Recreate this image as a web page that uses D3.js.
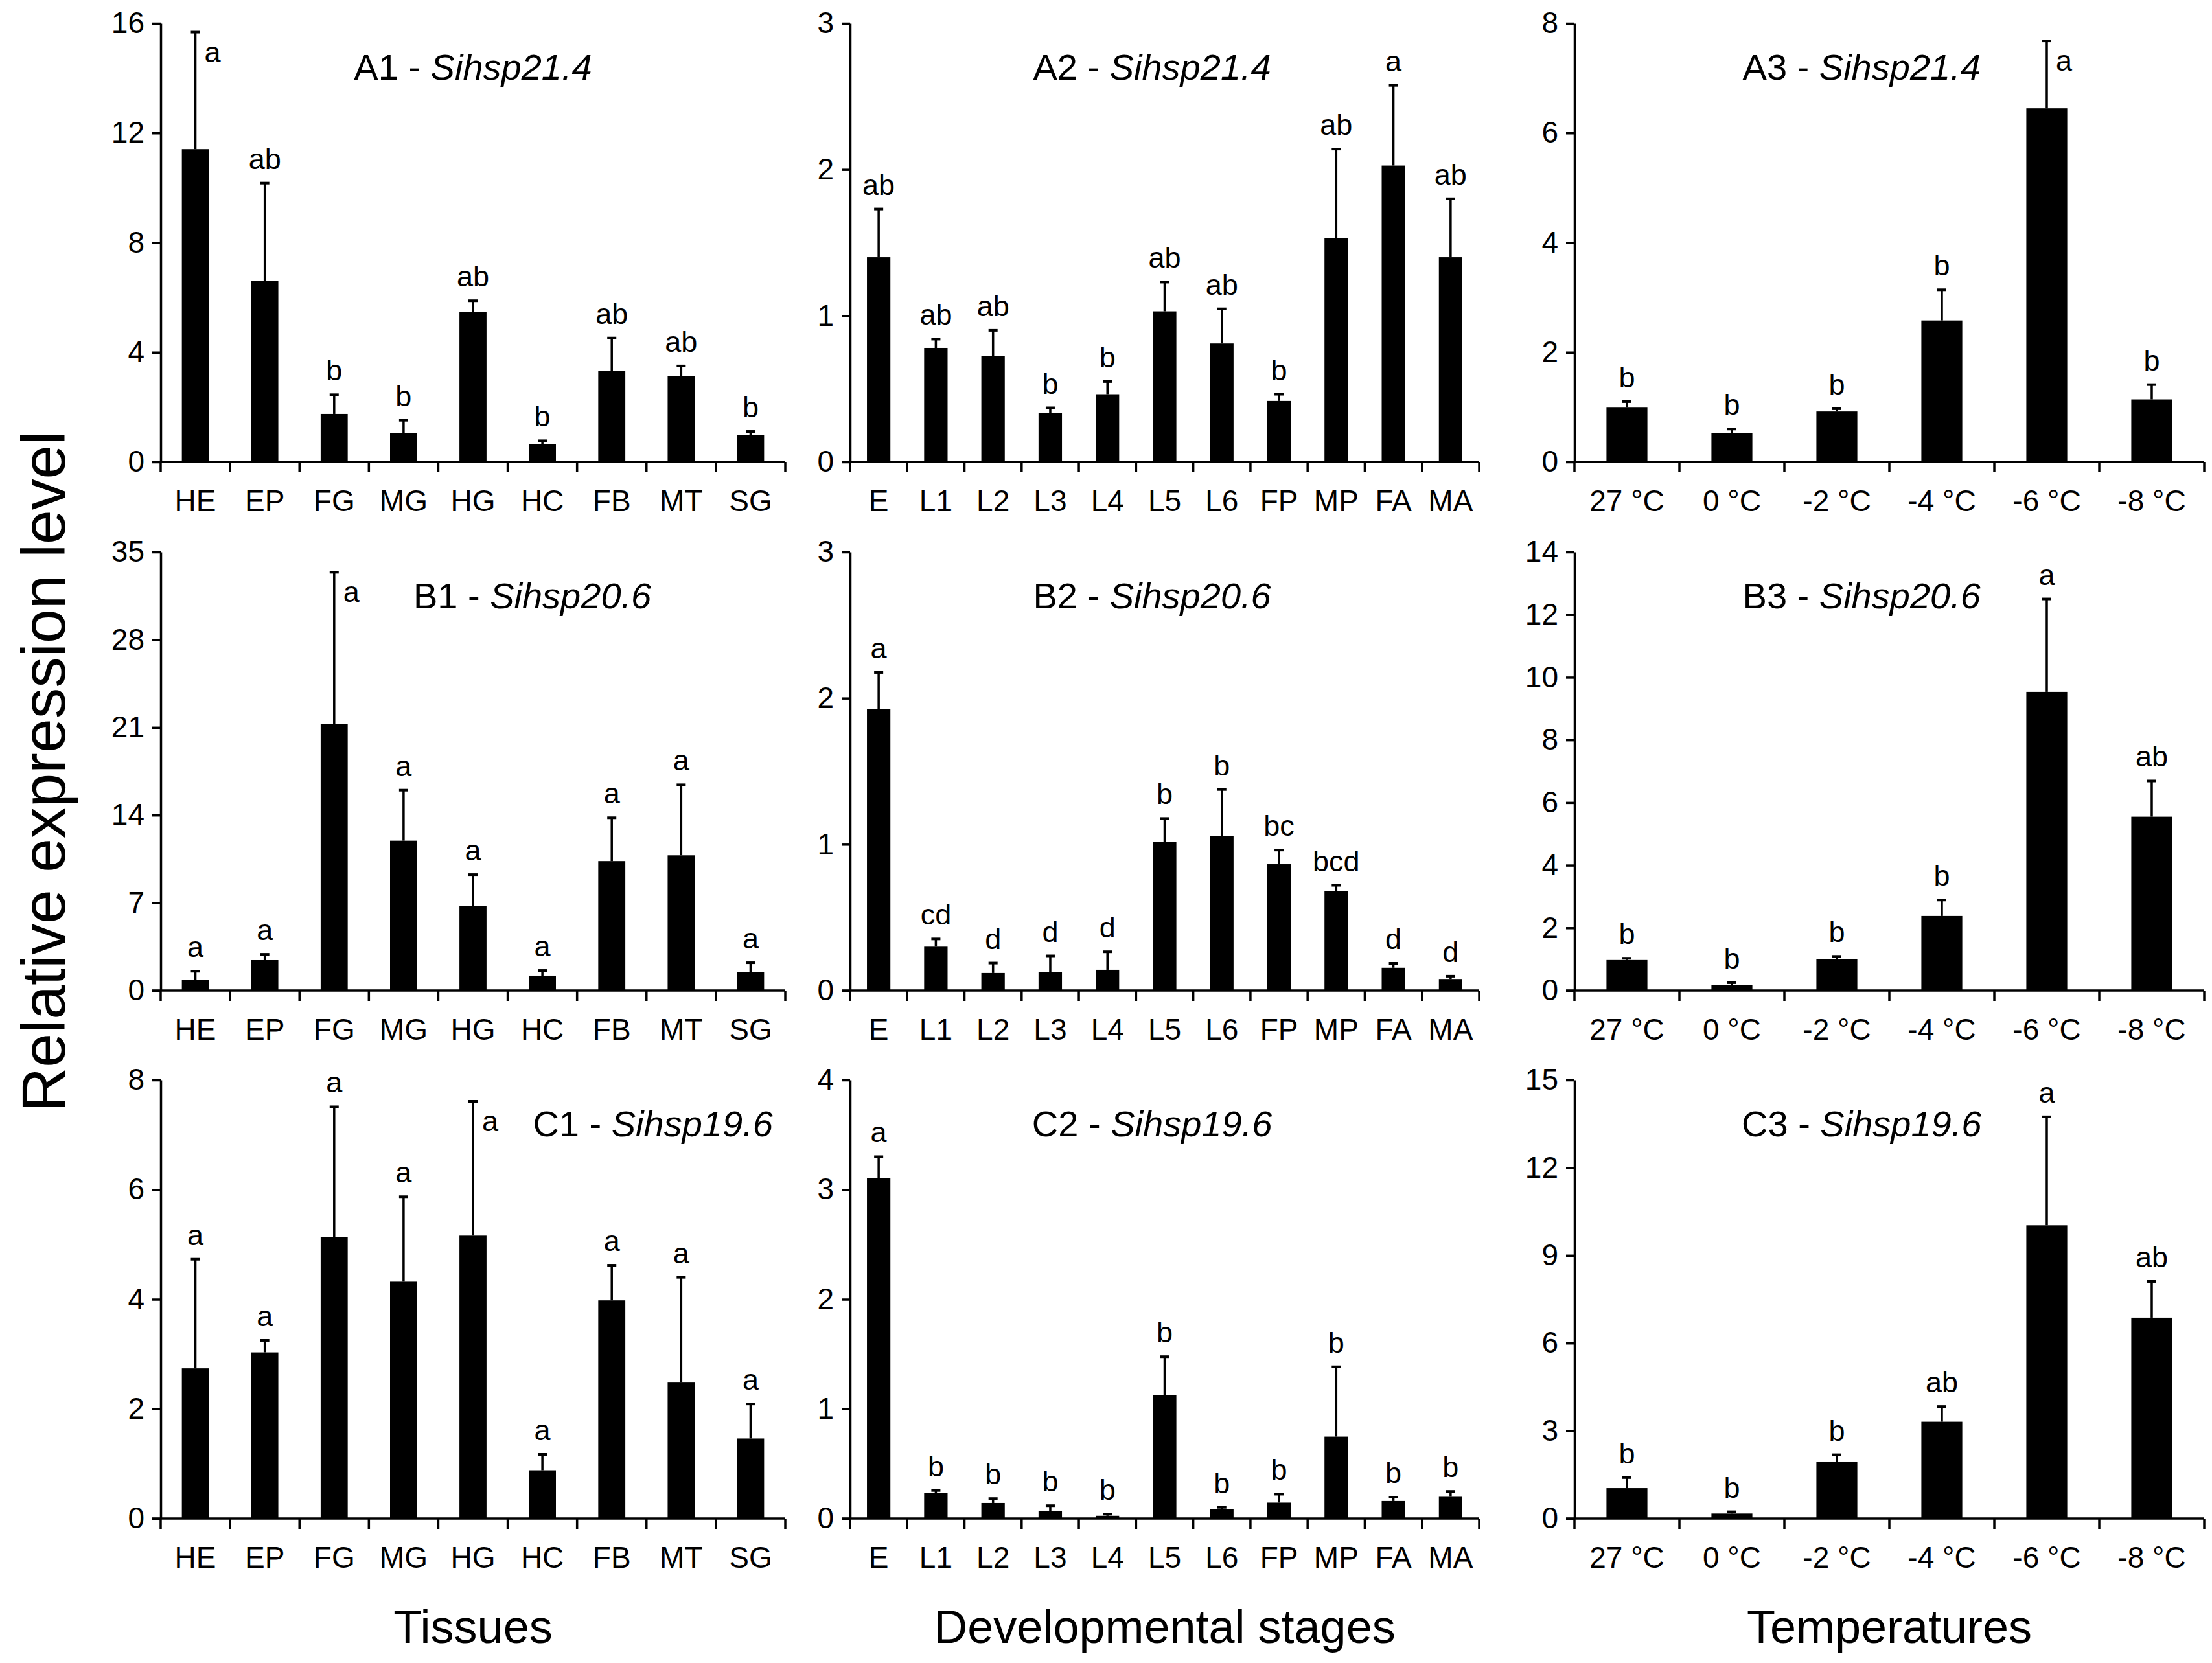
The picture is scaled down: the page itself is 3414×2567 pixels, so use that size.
<!DOCTYPE html>
<html>
<head>
<meta charset="utf-8">
<script src="https://cdn.jsdelivr.net/npm/d3@7"></script>
<style>
  body { margin: 0; background: #fff; }
  text { font-family: 'Liberation Sans', Arial, sans-serif; fill: #000; }
</style>
</head>
<body>
<div id="chart"></div>
<script>
const width = 3414
const height = 2567

/* categories */
const tissues = ['HE', 'EP', 'FG', 'MG', 'HG', 'HC', 'FB', 'MT', 'SG']
const stages = ['E', 'L1', 'L2', 'L3', 'L4', 'L5', 'L6', 'FP', 'MP', 'FA', 'MA']
const temps = ['27 °C', '0 °C', '-2 °C', '-4 °C', '-6 °C', '-8 °C']

/* Sihsp21.4 */
const a1Mean = [11.41, 6.60, 1.75, 1.06, 5.46, 0.64, 3.33, 3.13, 0.97]
const a1Se = [4.27, 3.57, 0.70, 0.46, 0.42, 0.13, 1.19, 0.37, 0.14]
const a1Letters = ['a', 'ab', 'b', 'b', 'ab', 'b', 'ab', 'ab', 'b']
const a2Mean = [1.40, 0.78, 0.725, 0.334, 0.463, 1.03, 0.81, 0.417, 1.533, 2.027, 1.40]
const a2Se = [0.33, 0.06, 0.175, 0.036, 0.087, 0.20, 0.237, 0.046, 0.607, 0.549, 0.40]
const a2Letters = ['ab', 'ab', 'ab', 'b', 'b', 'ab', 'ab', 'b', 'ab', 'a', 'ab']
const a3Mean = [0.99, 0.526, 0.92, 2.58, 6.45, 1.14]
const a3Se = [0.11, 0.074, 0.05, 0.56, 1.23, 0.27]
const a3Letters = ['b', 'b', 'b', 'b', 'a', 'b']

/* Sihsp20.6 */
const b1Mean = [0.87, 2.43, 21.29, 11.96, 6.76, 1.19, 10.33, 10.79, 1.49]
const b1Se = [0.67, 0.46, 12.09, 4.03, 2.49, 0.41, 3.46, 5.63, 0.73]
const b1Letters = ['a', 'a', 'a', 'a', 'a', 'a', 'a', 'a', 'a']
const b2Mean = [1.927, 0.30, 0.12, 0.128, 0.142, 1.017, 1.059, 0.864, 0.678, 0.156, 0.079]
const b2Se = [0.249, 0.053, 0.068, 0.109, 0.123, 0.16, 0.316, 0.097, 0.042, 0.03, 0.019]
const b2Letters = ['a', 'cd', 'd', 'd', 'd', 'b', 'b', 'bc', 'bcd', 'd', 'd']
const b3Mean = [0.975, 0.184, 1.008, 2.38, 9.535, 5.55]
const b3Se = [0.055, 0.066, 0.082, 0.51, 2.965, 1.14]
const b3Letters = ['b', 'b', 'b', 'b', 'a', 'ab']

/* Sihsp19.6 */
const c1Mean = [2.74, 3.03, 5.13, 4.32, 5.16, 0.88, 3.98, 2.48, 1.46]
const c1Se = [1.99, 0.22, 2.38, 1.55, 2.45, 0.29, 0.64, 1.92, 0.63]
const c1Letters = ['a', 'a', 'a', 'a', 'a', 'a', 'a', 'a', 'a']
const c2Mean = [3.107, 0.235, 0.142, 0.071, 0.025, 1.127, 0.086, 0.145, 0.747, 0.16, 0.204]
const c2Se = [0.193, 0.021, 0.04, 0.046, 0.015, 0.349, 0.016, 0.077, 0.637, 0.035, 0.043]
const c2Letters = ['a', 'b', 'b', 'b', 'b', 'b', 'b', 'b', 'b', 'b', 'b']
const c3Mean = [1.04, 0.17, 1.95, 3.31, 10.03, 6.87]
const c3Se = [0.36, 0.06, 0.23, 0.52, 3.71, 1.24]
const c3Letters = ['b', 'b', 'b', 'ab', 'a', 'ab']

/* y axis ranges and tick steps */
const yMax = [16, 3, 8, 35, 3, 14, 8, 4, 15]
const yStep = [4, 1, 2, 7, 1, 2, 2, 1, 3]

const genes = ['Sihsp21.4', 'Sihsp20.6', 'Sihsp19.6']
const rowIds = ['A', 'B', 'C']
const columnTitles = ['Tissues', 'Developmental stages', 'Temperatures']

/* layout (pixels) */
const cols = [
    {x: 248, w: 964, bar: 0.39, cats: tissues},
    {x: 1312, w: 971, bar: 0.41, cats: stages},
    {x: 2430, w: 972, bar: 0.39, cats: temps},
]
const rows = [
    {top: 36, zero: 713},
    {top: 852, zero: 1529},
    {top: 1667, zero: 2344},
]
/* where the panel title sits, as a share of plot width */
const titlePos = [[0.5, 0.48, 0.456], [0.595, 0.48, 0.456], [0.788, 0.48, 0.456]]
/* letters drawn beside the error bar instead of above it */
const sideLetters = {'0-0': 0, '0-2': 4, '1-0': 2, '2-0': 4}

const panels = [
    [a1Mean, a1Se, a1Letters], [a2Mean, a2Se, a2Letters], [a3Mean, a3Se, a3Letters],
    [b1Mean, b1Se, b1Letters], [b2Mean, b2Se, b2Letters], [b3Mean, b3Se, b3Letters],
    [c1Mean, c1Se, c1Letters], [c2Mean, c2Se, c2Letters], [c3Mean, c3Se, c3Letters],
]

const svg = d3.select('#chart').append('svg')
    .attr('width', width)
    .attr('height', height)

panels.forEach(([mean, se, letters], i) => {
    const r = Math.floor(i / 3)
    const c = i % 3
    const col = cols[c]
    const row = rows[r]

    const x = d3.scaleBand().domain(col.cats).range([col.x, col.x + col.w])
    const y = d3.scaleLinear().domain([0, yMax[i]]).range([row.zero, row.top])
    const bw = x.bandwidth() * col.bar

    const data = col.cats.map((k, j) => ({k, v: mean[j], e: se[j], l: letters[j], j}))
    const g = svg.append('g').attr('class', 'panel')

    /* bars */
    g.selectAll('rect.bar')
        .data(data)
        .join('rect')
        .attr('class', 'bar')
        .attr('x', d => x(d.k) + (x.bandwidth() - bw) / 2)
        .attr('width', bw)
        .attr('y', d => y(d.v))
        .attr('height', d => y(0) - y(d.v))
        .attr('fill', '#000')

    /* error bars, upper half only */
    const cx = d => x(d.k) + x.bandwidth() / 2
    g.selectAll('line.err')
        .data(data)
        .join('line')
        .attr('class', 'err')
        .attr('x1', cx).attr('x2', cx)
        .attr('y1', d => y(d.v)).attr('y2', d => y(d.v + d.e))
        .attr('stroke', '#000').attr('stroke-width', 3.5)
    g.selectAll('line.cap')
        .data(data)
        .join('line')
        .attr('class', 'cap')
        .attr('x1', d => cx(d) - 7).attr('x2', d => cx(d) + 7)
        .attr('y1', d => y(d.v + d.e)).attr('y2', d => y(d.v + d.e))
        .attr('stroke', '#000').attr('stroke-width', 4)

    /* significance letters */
    const side = sideLetters[r + '-' + c]
    g.selectAll('text.sig')
        .data(data)
        .join('text')
        .attr('class', 'sig')
        .attr('x', d => d.j === side ? cx(d) + 14 : cx(d))
        .attr('y', d => d.j === side ? y(d.v + d.e) + 46 : y(d.v + d.e) - 22)
        .attr('text-anchor', d => d.j === side ? 'start' : 'middle')
        .attr('font-size', 45)
        .text(d => d.l)

    /* y axis */
    const ticks = d3.range(0, yMax[i] + yStep[i] / 2, yStep[i])
    const yAxis = g.append('g')
        .attr('transform', `translate(${col.x},0)`)
        .call(d3.axisLeft(y).tickValues(ticks).tickFormat(d3.format('d'))
            .tickSize(13).tickSizeOuter(0).tickPadding(12))
    yAxis.select('.domain').attr('stroke-width', 3.5)
    yAxis.selectAll('.tick line').attr('stroke-width', 3.5)
    yAxis.selectAll('.tick text')
        .attr('font-size', 46)
        .attr('font-family', "'Liberation Sans', Arial, sans-serif")
        .attr('fill', '#000')

    /* x axis: baseline with ticks between categories */
    g.append('line')
        .attr('x1', col.x - 13).attr('x2', col.x + col.w)
        .attr('y1', y(0)).attr('y2', y(0))
        .attr('stroke', '#000').attr('stroke-width', 3.5)
    const bounds = col.cats.map(k => x(k)).concat([col.x + col.w])
    g.selectAll('line.xtick')
        .data(bounds)
        .join('line')
        .attr('class', 'xtick')
        .attr('x1', d => d).attr('x2', d => d)
        .attr('y1', y(0)).attr('y2', y(0) + 16)
        .attr('stroke', '#000').attr('stroke-width', 3.5)
    g.selectAll('text.cat')
        .data(col.cats)
        .join('text')
        .attr('class', 'cat')
        .attr('x', d => x(d) + x.bandwidth() / 2)
        .attr('y', y(0) + 76)
        .attr('text-anchor', 'middle')
        .attr('font-size', 46)
        .text(d => d)

    /* panel title */
    const title = g.append('text')
        .attr('x', col.x + col.w * titlePos[r][c])
        .attr('y', row.top + 87)
        .attr('text-anchor', 'middle')
        .attr('font-size', 56)
    title.append('tspan').text(rowIds[r] + (c + 1) + ' - ')
    title.append('tspan').attr('font-style', 'italic').text(genes[r])
})

/* column titles */
svg.selectAll('text.coltitle')
    .data(columnTitles)
    .join('text')
    .attr('class', 'coltitle')
    .attr('x', (d, i) => cols[i].x + cols[i].w / 2)
    .attr('y', 2536)
    .attr('text-anchor', 'middle')
    .attr('font-size', 72)
    .text(d => d)

/* shared y title */
svg.append('text')
    .attr('transform', 'translate(100,1191) rotate(-90)')
    .attr('text-anchor', 'middle')
    .attr('font-size', 95)
    .text('Relative expression level')
</script>
</body>
</html>
